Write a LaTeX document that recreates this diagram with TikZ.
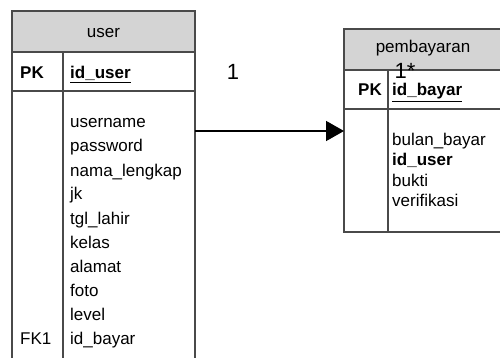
\documentclass[tikz,border=0pt]{standalone}
\usepackage{fontspec}
\setmainfont{Liberation Sans}
\usetikzlibrary{arrows.meta}
\definecolor{hdr}{HTML}{D4D4D4}
\definecolor{brd}{HTML}{4A4A4A}
\begin{document}
\begin{tikzpicture}[x=1pt,y=-1pt,
  frame/.style={draw=brd,line width=1.1pt},
  txt/.style={inner sep=0pt,anchor=base west,font=\fontsize{17}{20}\selectfont},
  ttl/.style={inner sep=0pt,anchor=base,font=\fontsize{17}{20}\selectfont},
  card/.style={inner sep=0pt,anchor=base,font=\fontsize{22}{26}\selectfont},
  rel/.style={line width=1.6pt,-{Triangle[length=18pt,width=20pt]}}]
\useasboundingbox (0,0) rectangle (500,358);
% user table
\fill[hdr] (12,11) rectangle (195,52);
\draw[frame] (12,358) -- (12,11) -- (195,11) -- (195,358);
\draw[frame] (12,52) -- (195,52);
\draw[frame] (12,91) -- (195,91);
\draw[frame] (63,52) -- (63,358);
\node[ttl] (utitle) at (103.5,38) {user};
\node[txt] (upk) at (20,79) {\bfseries PK};
\node[txt] (uid) at (70,79) {\bfseries\underline{id\_user}};
\foreach \t [count=\i from 0] in {username,password,nama\_lengkap,jk,tgl\_lahir,kelas,alamat,foto,level,id\_bayar}
  \node[txt] (ua\i) at (70,128+24*\i) {\t};
\node[txt] (ufk) at (20,344) {FK1};
% pembayaran table
\fill[hdr] (344,29) rectangle (502,70);
\draw[frame] (502,29) -- (344,29) -- (344,232) -- (502,232);
\draw[frame] (344,70) -- (502,70);
\draw[frame] (344,109) -- (502,109);
\draw[frame] (388,70) -- (388,232);
\node[ttl] (ptitle) at (423,53) {pembayaran};
\node[txt] (ppk) at (358,96) {\bfseries PK};
\node[txt] (pid) at (392,96) {\bfseries\underline{id\_bayar}};
\node[txt] (pa0) at (392,146) {bulan\_bayar};
\node[txt] (pa1) at (392,166) {\bfseries id\_user};
\node[txt] (pa2) at (392,186) {bukti};
\node[txt] (pa3) at (392,206) {verifikasi};
% relation
\coordinate (rs) at (195,131);
\coordinate (re) at (344,131);
\draw[rel] (rs) -- (re);
\node[card] (c1) at (233,80) {1};
\node[card] (c2) at (405,79) {1*};
\end{tikzpicture}
\end{document}
